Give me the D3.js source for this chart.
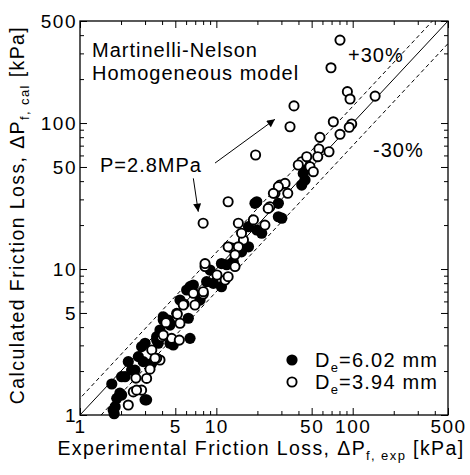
<!DOCTYPE html>
<html>
<head>
<meta charset="utf-8">
<script src="https://cdn.jsdelivr.net/npm/d3@7"></script>
<style>
body { margin: 0; background: #fff; }
text { font-family: "Liberation Sans", Arial, Helvetica, sans-serif; fill: #000; }
</style>
</head>
<body>
<svg id="chart" width="470" height="475"></svg>
<script>
// De = 6.02 mm (filled)
var filled = [
    [1.78, 1.02], [1.71, 1.63], [1.81, 1.14], [2.02, 1.37], [2.26, 2.32], [2.14, 1.83],
    [2.83, 2.94], [3.08, 1.27], [2.53, 2.03], [3.65, 3.26], [3.86, 3.82], [4.57, 3.10],
    [4.08, 4.47], [5.12, 4.97], [5.41, 6.13], [6.06, 7.18], [6.78, 7.77], [7.59, 6.13],
    [9.50, 7.98], [2.91, 2.32], [4.83, 3.02], [4.57, 4.13], [6.41, 3.35], [6.23, 4.60],
    [8.49, 8.19], [11.9, 10.7], [13.3, 11.2], [10.9, 7.57], [1.86, 1.30], [1.96, 1.41],
    [1.75, 1.08], [2.39, 2.03], [2.68, 2.51], [3.0, 1.27], [3.0, 3.10], [3.75, 3.10],
    [4.44, 4.47], [3.65, 3.44], [3.36, 2.26], [2.02, 1.83], [4.08, 4.70], [6.41, 7.57],
    [7.59, 6.46], [8.99, 9.84], [4.57, 4.25], [10.9, 10.9],
    [19.2, 28.2], [28.5, 22.8], [19.8, 18.5], [21.5, 17.6], [17.2, 14.2], [15.3, 13.1],
    [13.0, 10.9], [44.7, 40.7], [42.3, 37.6], [19.8, 28.9], [30.2, 22.3], [28.5, 28.2],
    [17.2, 19.5], [46.0, 51.6], [43.4, 45.2]
];
// De = 3.94 mm (open)
var open = [
    [2.26, 1.17], [2.46, 1.44], [2.83, 1.48], [2.57, 1.79], [3.08, 1.78], [3.26, 2.06],
    [3.36, 2.79], [3.86, 2.38], [3.97, 3.44], [4.70, 3.35], [5.35, 3.26], [4.27, 4.29],
    [5.17, 4.90], [5.41, 4.25], [5.79, 5.76], [6.97, 5.67], [6.78, 6.82], [8.02, 6.74],
    [11.6, 8.41], [8.26, 10.4], [10.1, 9.10], [12.2, 8.86], [13.0, 13.9], [8.02, 6.99],
    [3.65, 2.45], [5.72, 5.67], [2.60, 1.48], [3.55, 2.45], [4.08, 3.53],
    [12.2, 28.9], [8.0, 20.6], [14.5, 20.6], [26.9, 33.0], [29.3, 37.6], [24.7, 26.7],
    [18.7, 21.7], [22.7, 20.0], [15.8, 15.8], [14.5, 14.2], [13.7, 12.5], [12.2, 14.2],
    [8.26, 10.9], [13.7, 10.4], [19.4, 60.4], [31.9, 38.6], [28.5, 36.6], [26.2, 33.0],
    [33.4, 33.0], [24.0, 26.0], [15.3, 17.6],
    [42.3, 54.3], [46.0, 58.8], [48.6, 50.2], [51.4, 46.4], [39.9, 51.6],
    [80.7, 370], [69.3, 239], [91.4, 164], [95.6, 146], [146, 153], [37.1, 131],
    [34.7, 94.3], [72.1, 102], [98.3, 98.5], [94.3, 93.5], [80.7, 83.7], [57.5, 79.8],
    [56.5, 66.4], [67.0, 63.6], [55.4, 58.8]
];
var tickLabels = [1, 5, 10, 50, 100, 500];
var bandFactors = [1.3, 1, 0.7];   // +30%, y = x, -30%
// arrows for P=2.8MPa note, [from, to] in data units
var arrows = [
    [[9.78, 53.2], [26.9, 106]],
    [[6.78, 41.8], [7.37, 24.7]]
];

var svg = d3.select("#chart");
var L = 80, R = 448, T = 21, B = 415;

var x = d3.scaleLog().domain([1, 500]).range([L, R]);
var y = d3.scaleLog().domain([1, 500]).range([B, T]);

var allTicks = x.ticks();
function tlen(v) {
    var m = v / Math.pow(10, Math.floor(Math.log10(v) + 1e-9));
    return (Math.abs(m - 1) < 1e-6 || Math.abs(m - 5) < 1e-6) ? 7 : 4;
}
function fmt(v) { return tickLabels.indexOf(v) >= 0 ? String(v) : ""; }

svg.append("clipPath").attr("id", "plotclip")
    .append("rect").attr("x", L).attr("y", T).attr("width", R - L).attr("height", B - T);

// reference lines
var lineGen = d3.line().x(d => x(d[0])).y(d => y(d[1]));
bandFactors.forEach(function(f) {
    var pts = [[0.5, 0.5 * f], [1000, 1000 * f]];
    svg.append("path")
        .attr("d", lineGen(pts))
        .attr("clip-path", "url(#plotclip)")
        .attr("fill", "none")
        .attr("stroke", "#000")
        .attr("stroke-width", 1)
        .attr("stroke-dasharray", f === 1 ? null : "4,3");
});

// axes, ticks pointing inward on all four sides
var gb = svg.append("g").attr("transform", "translate(0," + B + ")")
    .call(d3.axisBottom(x).tickValues(allTicks).tickFormat(fmt).tickSize(-4).tickSizeOuter(0).tickPadding(5));
gb.selectAll(".tick line").attr("y2", d => -tlen(d));
var gl = svg.append("g").attr("transform", "translate(" + L + ",0)")
    .call(d3.axisLeft(y).tickValues(allTicks).tickFormat(fmt).tickSize(-4).tickSizeOuter(0).tickPadding(3));
gl.selectAll(".tick line").attr("x2", d => tlen(d));
var gt = svg.append("g").attr("transform", "translate(0," + T + ")")
    .call(d3.axisTop(x).tickValues(allTicks).tickFormat("").tickSize(-4).tickSizeOuter(0));
gt.selectAll(".tick line").attr("y2", d => tlen(d));
var gr = svg.append("g").attr("transform", "translate(" + R + ",0)")
    .call(d3.axisRight(y).tickValues(allTicks).tickFormat("").tickSize(-4).tickSizeOuter(0));
gr.selectAll(".tick line").attr("x2", d => -tlen(d));

svg.selectAll(".domain").remove();
svg.selectAll(".tick line").attr("stroke", "#000").attr("stroke-width", 1);
svg.selectAll(".tick text")
    .style("font-family", '"Liberation Sans", Arial, sans-serif')
    .style("font-size", "19px")
    .style("letter-spacing", "1.5px")
    .attr("fill", "#000");

svg.append("rect")
    .attr("x", L).attr("y", T).attr("width", R - L).attr("height", B - T)
    .attr("fill", "none").attr("stroke", "#000").attr("stroke-width", 1.3);

// points
svg.append("g").selectAll("circle").data(filled).enter().append("circle")
    .attr("cx", d => x(d[0])).attr("cy", d => y(d[1])).attr("r", 5.6)
    .attr("fill", "#000");
svg.append("g").selectAll("circle").data(open).enter().append("circle")
    .attr("cx", d => x(d[0])).attr("cy", d => y(d[1])).attr("r", 4.6)
    .attr("fill", "#fff").attr("stroke", "#000").attr("stroke-width", 1.9);

// annotation text
function label(tx, ty, s) {
    return svg.append("text").attr("x", tx).attr("y", ty)
        .style("font-size", "20px").style("letter-spacing", "1px").text(s);
}
label(92, 57, "Martinelli-Nelson");
label(92, 80, "Homogeneous model");
label(348, 62, "+30%");
label(373, 157, "-30%");
label(100, 172, "P=2.8MPa");

svg.append("defs").append("marker")
    .attr("id", "ah").attr("viewBox", "0 0 10 10").attr("refX", 10).attr("refY", 5)
    .attr("markerWidth", 12).attr("markerHeight", 8).attr("markerUnits", "userSpaceOnUse")
    .attr("orient", "auto")
    .append("path").attr("d", "M0,0 L10,5 L0,10 Z").attr("fill", "#000");
arrows.forEach(function(a) {
    svg.append("line")
        .attr("x1", x(a[0][0])).attr("y1", y(a[0][1]))
        .attr("x2", x(a[1][0])).attr("y2", y(a[1][1]))
        .attr("stroke", "#000").attr("stroke-width", 1)
        .attr("marker-end", "url(#ah)");
});

// legend
var legend = [
    { fill: "#000", text: "=6.02 mm" },
    { fill: "#fff", text: "=3.94 mm" }
];
legend.forEach(function(d, i) {
    var cy = 360 + i * 22;
    svg.append("circle").attr("cx", 292).attr("cy", cy)
        .attr("r", d.fill === "#000" ? 5.6 : 4.6)
        .attr("fill", d.fill).attr("stroke", "#000").attr("stroke-width", d.fill === "#000" ? 0 : 1.9);
    var t = svg.append("text").attr("x", 315).attr("y", cy + 7)
        .style("font-size", "20px").style("letter-spacing", "1.2px");
    t.append("tspan").text("D");
    t.append("tspan").attr("dy", 5).style("font-size", "13px").text("e");
    t.append("tspan").attr("dy", -5).text(d.text);
});

// axis titles
var xt = svg.append("text").attr("x", 261).attr("y", 455).attr("text-anchor", "middle")
    .style("font-size", "19.5px").style("letter-spacing", "1.4px");
xt.append("tspan").text("Experimental Friction Loss, \u0394P");
xt.append("tspan").attr("dy", 5).style("font-size", "13px").text("f, exp");
xt.append("tspan").attr("dy", -5).text(" [kPa]");

var yt = svg.append("text").attr("transform", "translate(24,215) rotate(-90)").attr("text-anchor", "middle")
    .style("font-size", "19.5px").style("letter-spacing", "1.4px");
yt.append("tspan").text("Calculated Friction Loss, \u0394P");
yt.append("tspan").attr("dy", 5).style("font-size", "13px").text("f, cal");
yt.append("tspan").attr("dy", -5).text(" [kPa]");
</script>
</body>
</html>
